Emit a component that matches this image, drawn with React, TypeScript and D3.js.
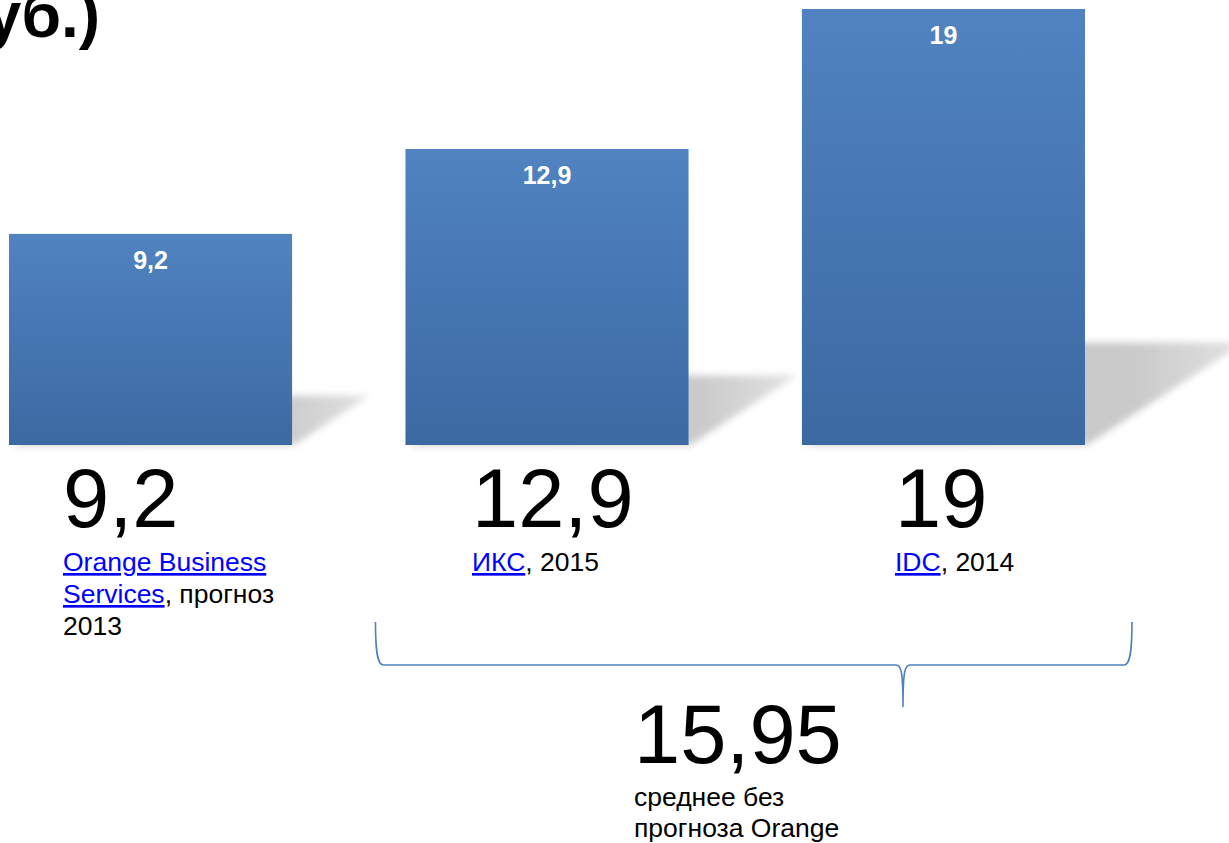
import React from "react";
import * as d3 from "d3";

// ---- data ----
const sources = ["Orange Business Services", "ИКС", "IDC"];
const values = [9.2, 12.9, 19];
const years = ["прогноз 2013", "2015", "2014"];
const averagedIdx = [1, 2];
const titleText = "(млрд руб.)";
const avgCaption = ["среднее без", "прогноза Orange"];

// ---- layout ----
const W = 1229;
const H = 843;
const baseY = 445;
const topY = 9;
const labelX = [63, 472, 895];
const FONT = "'Liberation Sans', Arial, Helvetica, sans-serif";

const fmt = (v: number) => {
  const s = Number.isInteger(v) ? String(v) : d3.format(".2~f")(v);
  return s.replace(".", ",");
};

export default function App() {
  const x = d3
    .scaleBand<string>()
    .domain(sources)
    .range([9, 1085])
    .paddingInner(0.286)
    .paddingOuter(0);
  const y = d3.scaleLinear().domain([0, d3.max(values) as number]).range([baseY, topY]);
  const bw = x.bandwidth();

  const avg = d3.mean(averagedIdx.map((i) => values[i])) as number;

  // brace
  const bx0 = (x(sources[averagedIdx[0]]) as number) - 30;
  const bx1 = (x(sources[averagedIdx[1]]) as number) + bw + 47;
  const bTop = 622;
  const bMid = 665;
  const bTip = 707;
  const cx = 903;
  const p = d3.path();
  p.moveTo(bx0, bTop);
  p.bezierCurveTo(bx0, bTop + 30, bx0 + 2, bMid, bx0 + 8, bMid);
  p.lineTo(cx - 7, bMid);
  p.bezierCurveTo(cx - 2, bMid, cx, bMid + 6, cx, bTip);
  p.bezierCurveTo(cx, bMid + 6, cx + 2, bMid, cx + 7, bMid);
  p.lineTo(bx1 - 8, bMid);
  p.bezierCurveTo(bx1 - 2, bMid, bx1, bTop + 30, bx1, bTop);

  const srcSize = 26.5;
  const lineH = 32;

  return (
    <svg
      width={W}
      height={H}
      style={{ position: "fixed", left: 0, top: 0, display: "block", background: "#fff" }}
      fontFamily={FONT}
    >
      <defs>
        <linearGradient id="barGrad" x1="0" y1="0" x2="0" y2="1">
          <stop offset="0" stopColor="#5083c0" />
          <stop offset="1" stopColor="#3c69a2" />
        </linearGradient>
        <linearGradient id="shGrad" x1="0" y1="0" x2="1" y2="0">
          <stop offset="0" stopColor="#c4c4c4" />
          <stop offset="0.75" stopColor="#cacaca" />
          <stop offset="1" stopColor="#e2e2e2" />
        </linearGradient>
        <filter id="blur" x="-20%" y="-20%" width="140%" height="140%">
          <feGaussianBlur stdDeviation="3.5" />
        </filter>
      </defs>

      {/* title (clipped at left edge, as in the reference) */}
      <text x={100} y={37} textAnchor="end" fontSize={64} fontWeight="bold" fill="#000">
        {titleText}
      </text>

      {/* shadows */}
      {values.map((v, i) => {
        const x0 = x(sources[i]) as number;
        const x1 = x0 + bw;
        const h = baseY - y(v);
        const sh = h * 0.235;
        const dx = h * 0.365;
        const pts = [
          [x0 + 4, baseY],
          [x1 + 2, baseY],
          [x1 + dx, baseY - sh],
          [x0 + dx, baseY - sh],
        ];
        return (
          <polygon
            key={"s" + i}
            points={pts.map((q) => q.join(",")).join(" ")}
            fill="url(#shGrad)"
            filter="url(#blur)"
          />
        );
      })}

      {/* bars */}
      {values.map((v, i) => (
        <rect
          key={"b" + i}
          x={x(sources[i])}
          y={y(v)}
          width={bw}
          height={baseY - y(v)}
          fill="url(#barGrad)"
        />
      ))}

      {/* in-bar value labels */}
      {values.map((v, i) => (
        <text
          key={"v" + i}
          x={(x(sources[i]) as number) + bw / 2}
          y={y(v) + 35}
          textAnchor="middle"
          fontSize={25}
          fontWeight="bold"
          fill="#fff"
        >
          {fmt(v)}
        </text>
      ))}

      {/* big numbers */}
      {values.map((v, i) => (
        <text key={"n" + i} x={labelX[i]} y={527} fontSize={83} fill="#000">
          {fmt(v)}
        </text>
      ))}

      {/* sources */}
      <g fontSize={srcSize} fill="#000">
        <text x={labelX[0]} y={571}>
          <tspan fill="#0000ff" textDecoration="underline">Orange Business</tspan>
        </text>
        <text x={labelX[0]} y={571 + lineH}>
          <tspan fill="#0000ff" textDecoration="underline">Services</tspan>
          <tspan>, {years[0].split(" ")[0]}</tspan>
        </text>
        <text x={labelX[0]} y={571 + 2 * lineH}>
          {years[0].split(" ")[1]}
        </text>
        {[1, 2].map((i) => (
          <text key={"src" + i} x={labelX[i]} y={571}>
            <tspan fill="#0000ff" textDecoration="underline">{sources[i]}</tspan>
            <tspan>, {years[i]}</tspan>
          </text>
        ))}
      </g>

      {/* brace */}
      <path d={p.toString()} fill="none" stroke="#4f81bd" strokeWidth={1.6} />

      {/* average */}
      <text x={634} y={763} fontSize={83} fill="#000">
        {fmt(avg)}
      </text>
      {avgCaption.map((t, i) => (
        <text key={"c" + i} x={634} y={806 + i * 31} fontSize={srcSize} fill="#000">
          {t}
        </text>
      ))}
    </svg>
  );
}
